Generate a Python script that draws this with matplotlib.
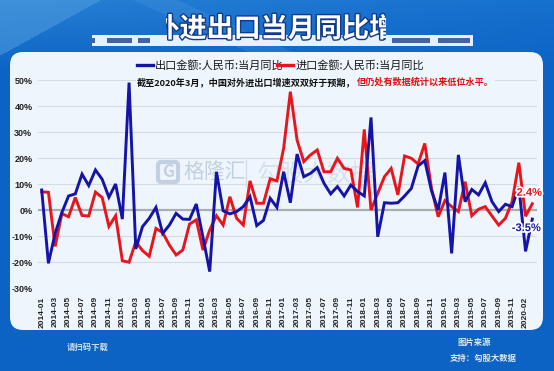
import numpy as np
import matplotlib
matplotlib.use("Agg")
import matplotlib.pyplot as plt
from matplotlib.patches import FancyBboxPatch, Rectangle
from matplotlib.lines import Line2D
from matplotlib.transforms import Bbox
import matplotlib.patheffects as pe

plt.rcParams['font.family'] = ['Noto Sans CJK SC', 'DejaVu Sans']

# ---------------- data ----------------
months = [f"{y}-{m:02d}" for y in range(2014, 2020) for m in range(1, 13)] + ["2020-02", "2020-03"]

export_yoy = [7.7, -20.5, -9.0, -1.0, 5.4, 6.2, 13.8, 9.4, 15.4, 11.8, 4.9, 10.0,
              -3.5, 49.0, -15.0, -6.4, -3.2, 1.0, -9.0, -5.8, -1.3, -3.5, -3.6, 2.3,
              -10.5, -23.7, 14.7, -0.3, -1.5, -0.6, 1.3, 5.1, -6.0, -4.0, 4.5, 1.0,
              14.7, 2.8, 21.5, 12.8, 14.1, 16.3, 10.3, 6.2, 9.0, 5.4, 9.6, 7.1,
              5.4, 35.6, -10.3, 2.8, 2.6, 2.8, 5.4, 8.3, 16.9, 19.0, 7.4, 0.0,
              14.4, -16.7, 21.2, 3.2, 7.9, 5.8, 10.5, 3.2, -0.6, 2.2, 1.3, 9.0,
              -15.9, -3.5]

import_yoy = [7.0, 6.8, -14.0, -1.4, -2.6, 4.8, -2.1, -2.3, 6.9, 4.8, -6.3, -2.2,
              -19.5, -20.1, -12.2, -15.6, -17.8, -7.1, -8.7, -13.5, -17.3, -15.4, -5.4, -3.8,
              -15.4, -7.7, -2.2, -5.8, 5.1, -3.2, -5.8, 11.2, 2.6, 2.6, 12.0, 11.2,
              23.7, 45.5, 26.9, 18.6, 21.2, 23.1, 14.7, 14.7, 19.9, 16.0, 15.4, 1.0,
              31.0, 0.0, 6.4, 12.8, 16.0, 5.8, 20.8, 19.9, 17.7, 25.6, 8.3, -2.6,
              3.6, 1.3, -0.6, 10.9, -2.2, 0.3, 1.3, -2.3, -5.8, -3.2, 3.2, 18.2,
              -2.4, 2.4]

y_ticks = [-30, -20, -10, 0, 10, 20, 30, 40, 50]
legend_labels = ["出口金额:人民币:当月同比", "进口金额:人民币:当月同比"]
title_text = "对外进出口当月同比增速"
note_black = "截至2020年3月，中国对外进出口增速双双好于预期，"
note_red = "但仍处有数据统计以来低位水平。"

BLUE = "#1414a8"
RED = "#e8161c"
PANEL = "#eef5fc"

W, H = 554, 371
fig = plt.figure(figsize=(W / 100, H / 100), dpi=100)

# ---------------- background ----------------
bg = fig.add_axes([0, 0, 1, 1], zorder=-1)
bg.set_xlim(0, W)
bg.set_ylim(H, 0)
bg.axis('off')

yy, xx = np.mgrid[0:H, 0:W]
base = np.array([12, 99, 196], dtype=float)
light = np.array([92, 165, 226], dtype=float)
mid = np.array([40, 128, 212], dtype=float)
img = np.tile(base, (H, W, 1))
t = np.clip(1 - yy / 70.0, 0, 1)[..., None]
grad = mid * (1 - xx[..., None] / W) + np.array([22, 112, 206]) * (xx[..., None] / W)
img = img * (1 - t) + grad * t
diag = (xx * 0.55 + yy) < 55
img[diag] = img[diag] * 0.55 + light * 0.45
diag2 = ((xx * 0.45 - yy) > 60) & ((xx * 0.45 - yy) < 80) & (yy < 55)
img[diag2] = img[diag2] * 0.8 + light * 0.2
bg.imshow(img.astype(np.uint8), extent=(0, W, H, 0), aspect='auto', zorder=0)

# white strip under title
bg.add_patch(Rectangle((92, 35), 381, 11, facecolor='white', alpha=0.9, edgecolor='none', zorder=1))
for x0, x1 in [(92, 95), (107, 132), (138, 150), (392, 430), (438, 470)]:
    bg.add_patch(Rectangle((x0, 38), x1 - x0, 5, facecolor='#1d3f8f', alpha=0.8, edgecolor='none', zorder=1.1))

# title (clipped like the reference)
tt = bg.text(274.5, 29, title_text, ha='center', va='center', fontsize=19.5,
             fontweight='bold', color='white', zorder=2,
             path_effects=[pe.withStroke(linewidth=2.0, foreground='#123a8a')])
tt.set_clip_on(True)
tt.set_clip_box(Bbox.from_extents(166, H - 50, 386, H - 8))

# white panel
bg.add_patch(FancyBboxPatch((10, 52), 533, 278, boxstyle="round,pad=0,rounding_size=13",
                            facecolor=PANEL, edgecolor='none', zorder=1))

# watermark
bg.add_patch(FancyBboxPatch((158, 162), 20, 20, boxstyle="round,pad=0,rounding_size=3",
                            facecolor='none', edgecolor='#c3d0e2', lw=3, zorder=2))
bg.text(168, 172, "G", ha='center', va='center', fontsize=12, fontweight='bold', color='#c3d0e2', zorder=2)
bg.text(183, 172, "格隆汇", ha='left', va='center', fontsize=15, color='#c3d0e2', zorder=2)
bg.plot([246, 246], [160, 186], color='#d2dcea', lw=1, zorder=2)
bg.text(256, 174, "勾股大数据", ha='left', va='center', fontsize=17, color='#d6e0ec', zorder=2)

# legend
bg.add_line(Line2D([137, 153], [65, 65], color=BLUE, lw=2.4, zorder=3))
bg.text(155, 65.5, legend_labels[0], ha='left', va='center', fontsize=8, color='#1a1a1a', zorder=3)
bg.add_line(Line2D([277, 293], [65, 65], color=RED, lw=2.4, zorder=3))
bg.text(296, 65.5, legend_labels[1], ha='left', va='center', fontsize=8, color='#1a1a1a', zorder=3)

# bottom band texts
bg.text(67, 347, "请扫码下载", ha='left', va='center', fontsize=6, fontweight='bold', color='white', alpha=0.8, zorder=3)
bg.text(457, 342, "图片来源", ha='left', va='center', fontsize=6, fontweight='bold', color='white', alpha=0.85, zorder=3)
bg.text(450, 358, "支持：勾股大数据", ha='left', va='center', fontsize=6, fontweight='bold', color='white', alpha=0.85, zorder=3)

# ---------------- main chart ----------------
left_px, right_px, top_px, bot_px = 38, 537, 80, 288
ax = fig.add_axes([left_px / W, 1 - bot_px / H, (right_px - left_px) / W, (bot_px - top_px) / H], zorder=1)
ax.set_facecolor('none')
x = np.arange(len(months))
ax.set_xlim(-0.55, 73.7)
ax.set_ylim(-30, 50)

for v in y_ticks:
    if v == 0:
        ax.axhline(v, color='#a9adb2', lw=1.6, zorder=1)
    else:
        ax.axhline(v, color='#d5dbe2', lw=0.8, zorder=1)

ax.plot(x, import_yoy, color=RED, lw=2.1, zorder=3, clip_on=False, solid_joinstyle='miter')
ax.plot(x, export_yoy, color=BLUE, lw=2.1, zorder=4, clip_on=False, solid_joinstyle='miter')

for s in ax.spines.values():
    s.set_visible(False)

ax.set_yticks(y_ticks)
ax.set_yticklabels([f"{v}%" for v in y_ticks], fontsize=6.5, fontweight='bold',
                   fontfamily='Liberation Sans', color='#222222')
xt = list(range(0, 72, 2)) + [72]
ax.set_xticks(xt)
ax.set_xticklabels([months[i] for i in xt], rotation=90, fontsize=6, fontweight='bold',
                   fontfamily='Liberation Sans', color='#222222')
ax.tick_params(axis='both', length=0)
ax.tick_params(axis='y', pad=4)
ax.tick_params(axis='x', pad=6)

# end labels
ax.annotate(f"{import_yoy[-1]}%", xy=(x[-1], import_yoy[-1]), xytext=(-3, 11), textcoords='offset pixels',
            ha='center', va='center', fontsize=8, fontweight='bold', color=RED, fontfamily='Liberation Sans',
            zorder=6, path_effects=[pe.withStroke(linewidth=2.5, foreground='white')])
ax.annotate(f"{export_yoy[-1]}%", xy=(x[-1], export_yoy[-1]), xytext=(-6, -9), textcoords='offset pixels',
            ha='center', va='center', fontsize=8, fontweight='bold', color='#1a1a9c', fontfamily='Liberation Sans',
            zorder=6, path_effects=[pe.withStroke(linewidth=2.5, foreground='white')])

# note text (on top of the chart, hiding the grid line behind it)
nb = fig.text(137 / W, 1 - 82 / H, note_black, ha='left', va='center', fontsize=6.6, fontweight='bold',
              color='#111111', zorder=10,
              bbox=dict(boxstyle='square,pad=0.15', facecolor=PANEL, edgecolor='none'))
fig.texts[-1].set_zorder(10)
na = plt.annotate(note_red, xy=(1, 0.5), xycoords=nb, xytext=(1, 0), textcoords='offset points',
                  ha='left', va='center', fontsize=6.6, fontweight='bold', color='#e01010',
                  annotation_clip=False,
                  bbox=dict(boxstyle='square,pad=0.15', facecolor=PANEL, edgecolor='none'))
na.set_zorder(10)

fig.savefig("out.png", dpi=100)
